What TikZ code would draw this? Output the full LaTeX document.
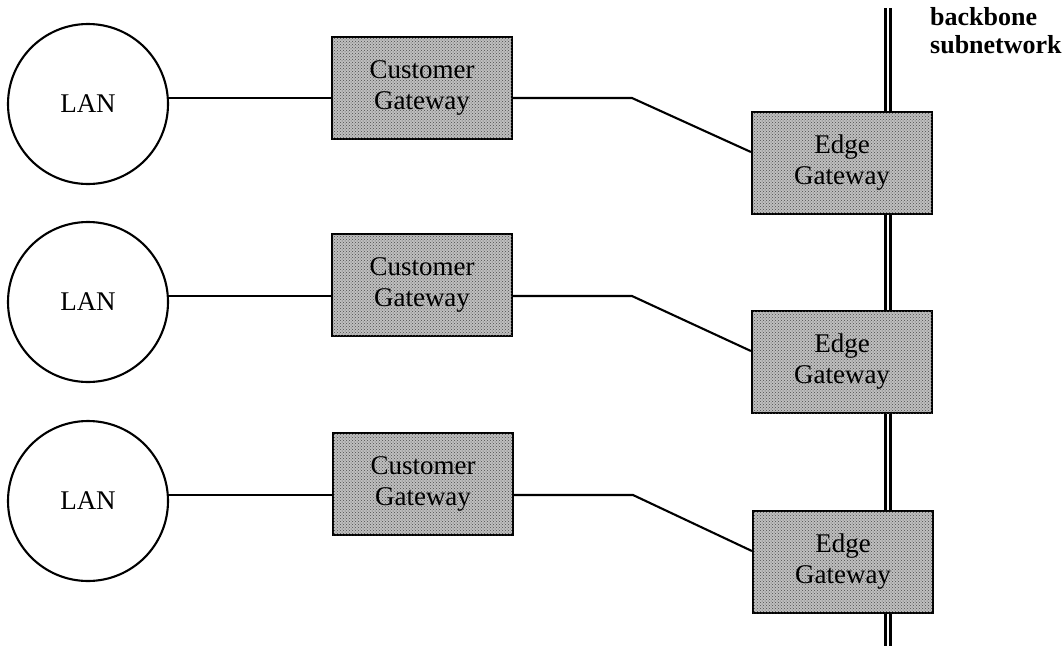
\documentclass[tikz,border=0pt]{standalone}
\usepackage{fontspec}
\setmainfont{Liberation Serif}
\usetikzlibrary{patterns}
\begin{document}
\begin{tikzpicture}[x=1pt,y=-1pt,
  lan/.style={circle, draw, line width=2.1pt, minimum size=160pt, inner sep=0pt,
    font=\fontsize{27}{31}\selectfont},
  gw/.style={rectangle, draw, line width=2.2pt, minimum width=180pt, minimum height=102pt,
    inner sep=0pt, fill=gray!50, postaction={pattern=crosshatch dots, pattern color=black!70},
    align=center, font=\fontsize{27}{31}\selectfont},
  link/.style={line width=2.1pt},
  bb/.style={double, double distance=2.6pt, line width=2.6pt},
  lbl/.style={align=left, anchor=north west, inner sep=0pt,
    font=\bfseries\fontsize{26}{28}\selectfont}]
\useasboundingbox (0,0) rectangle (1063,646);
% backbone
\coordinate (bbtop) at (888,8);
\coordinate (bbbot) at (888,646);
\draw[bb] (bbtop) -- (bbbot);
\node[lbl] (bblabel) at (930,7) {backbone\\subnetwork};
% LANs
\node[lan] (lan1) at (88,104) {LAN};
\node[lan] (lan2) at (88,302) {LAN};
\node[lan] (lan3) at (88,501) {LAN};
% customer gateways
\node[gw] (cg1) at (422,88) {Customer\\Gateway};
\node[gw] (cg2) at (422,285) {Customer\\Gateway};
\node[gw] (cg3) at (423,484) {Customer\\Gateway};
% edge gateways
\node[gw] (eg1) at (842,163) {Edge\\Gateway};
\node[gw] (eg2) at (842,362) {Edge\\Gateway};
\node[gw] (eg3) at (843,562) {Edge\\Gateway};
% bends
\coordinate (b1) at (632,98);
\coordinate (b2) at (632,296);
\coordinate (b3) at (633,495);
% links
\draw[link] (b1 -| lan1.east) -- (b1 -| cg1.west);
\draw[link] (b2 -| lan2.east) -- (b2 -| cg2.west);
\draw[link] (b3 -| lan3.east) -- (b3 -| cg3.west);
\draw[link] (b1 -| cg1.east) -- (b1) -- ([yshift=11pt]eg1.west);
\draw[link] (b2 -| cg2.east) -- (b2) -- ([yshift=11pt]eg2.west);
\draw[link] (b3 -| cg3.east) -- (b3) -- ([yshift=11pt]eg3.west);
\end{tikzpicture}
\end{document}
